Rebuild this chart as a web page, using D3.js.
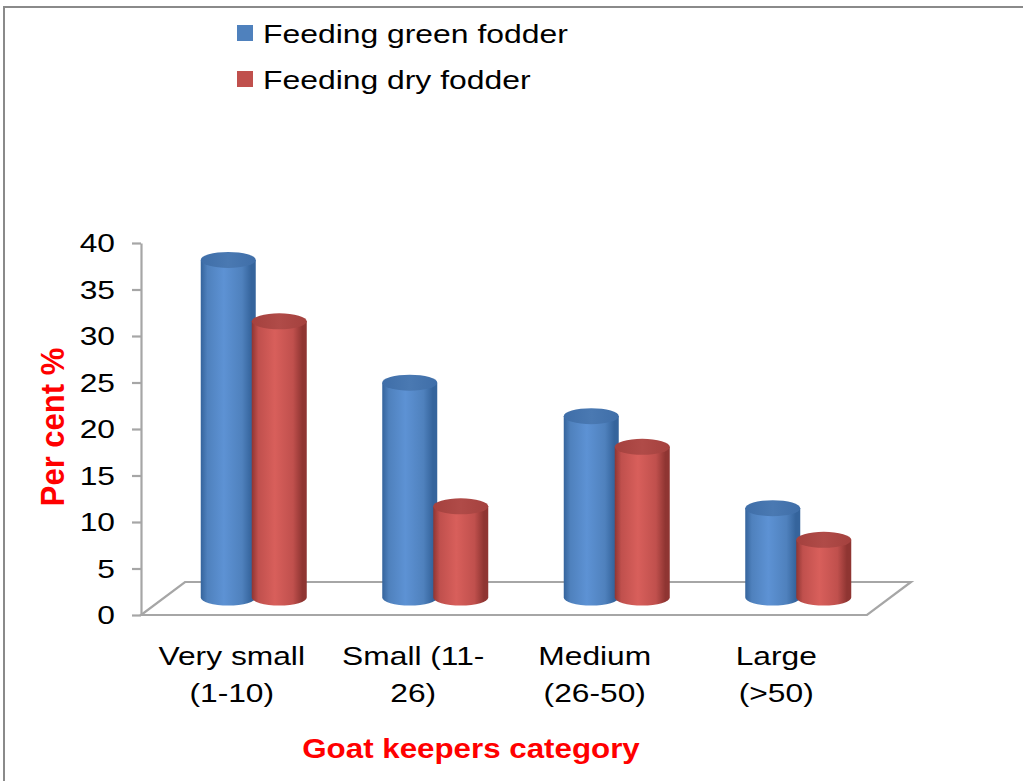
<!DOCTYPE html>
<html>
<head>
<meta charset="utf-8">
<script src="https://cdn.jsdelivr.net/npm/d3@7"></script>
<style>
  html, body { margin: 0; padding: 0; background: #fff; }
  svg { display: block; font-family: "Liberation Sans", Arial, sans-serif; }
</style>
</head>
<body>
<svg id="chart" width="1023" height="781"></svg>
<script>
// ---- data ----
const categories = ["Very small|(1-10)", "Small (11-|26)", "Medium|(26-50)", "Large|(>50)"];
const seriesNames = ["Feeding green fodder", "Feeding dry fodder"];
const greenFodder = [36.3, 23.1, 19.5, 9.6];
const dryFodder = [29.7, 9.8, 16.2, 6.2];
const yTicks = [0, 5, 10, 15, 20, 25, 30, 35, 40];

// ---- layout ----
const W = 1023, H = 781;
const svg = d3.select("#chart");
const SX = 1.27; // horizontal stretch of the text
const axisX = 141, floorW = 726;
const depthX = 44, depthY = -33;
const barDX = depthX / 2, barDY = depthY / 2 - 1;
const rx = 27.5, ry = 8, pairOff = 25.5;

const y = d3.scaleLinear().domain([0, 40]).range([615, 243]);
const x = d3.scaleBand().domain(categories).range([axisX, axisX + floorW]).padding(0);

const colors = {
  blue: { dark: "#35649c", mid: "#4f81bd", light: "#5d92d4", top: "#3f6ea8", topLight: "#4a79b2" },
  red: { dark: "#8f3532", mid: "#c0504d", light: "#d85f5b", top: "#a4413e", topLight: "#b04b48" }
};

const defs = svg.append("defs");
Object.entries(colors).forEach(([k, c]) => {
  const g = defs.append("linearGradient").attr("id", "body-" + k).attr("x1", 0).attr("x2", 1).attr("y1", 0).attr("y2", 0);
  [[0, c.dark], [0.12, c.mid], [0.42, c.light], [0.75, c.mid], [0.92, c.dark], [1, c.dark]]
    .forEach(([o, col]) => g.append("stop").attr("offset", o).attr("stop-color", col));
  const t = defs.append("linearGradient").attr("id", "top-" + k).attr("x1", 0).attr("x2", 1).attr("y1", 0).attr("y2", 0);
  [[0, c.top], [0.5, c.topLight], [1, c.top]]
    .forEach(([o, col]) => t.append("stop").attr("offset", o).attr("stop-color", col));
});

// ---- frame ----
svg.append("path").attr("d", `M4,781 L4,7 L1023,7`).attr("fill", "none").attr("stroke", "#8a8a8a").attr("stroke-width", 2);

// ---- floor ----
const x0 = axisX, x1 = axisX + floorW, y0 = y(0);
svg.append("path")
  .attr("d", `M${x0},${y0} L${x1},${y0} L${x1 + depthX},${y0 + depthY} L${x0 + depthX},${y0 + depthY} Z`)
  .attr("fill", "none").attr("stroke", "#a6a6a6").attr("stroke-width", 2.2);

// ---- y axis ----
const yAxis = d3.axisLeft(y).tickValues(yTicks).tickSize(9).tickSizeOuter(0).tickPadding(0).tickFormat(() => "");
const ga = svg.append("g").attr("transform", `translate(${axisX},0)`).call(yAxis);
ga.select(".domain").attr("stroke", "#a6a6a6").attr("stroke-width", 2.2);
ga.selectAll(".tick line").attr("stroke", "#a6a6a6").attr("stroke-width", 2.2);

yTicks.forEach(t => {
  svg.append("text")
    .attr("transform", `translate(115,${y(t) + 9}) scale(${SX},1)`)
    .attr("text-anchor", "end").attr("font-size", 25).attr("fill", "#000").text(t);
});

// ---- cylinders ----
function cyl(cx, v, key) {
  const topY = y(v) + barDY, baseY = y(0) + barDY;
  const g = svg.append("g");
  g.append("path")
    .attr("d", `M${cx - rx},${topY} L${cx - rx},${baseY} A${rx},${ry} 0 0 0 ${cx + rx},${baseY} L${cx + rx},${topY} Z`)
    .attr("fill", `url(#body-${key})`);
  g.append("ellipse").attr("cx", cx).attr("cy", topY).attr("rx", rx).attr("ry", ry)
    .attr("fill", `url(#top-${key})`);
}
categories.forEach((c, i) => {
  const cc = x(c) + x.bandwidth() / 2 + barDX;
  cyl(cc - pairOff, greenFodder[i], "blue");
  cyl(cc + pairOff, dryFodder[i], "red");
});

// ---- category labels ----
categories.forEach(c => {
  const cx = x(c) + x.bandwidth() / 2;
  c.split("|").forEach((line, j) => {
    svg.append("text")
      .attr("transform", `translate(${cx},${665 + j * 37}) scale(${SX},1)`)
      .attr("text-anchor", "middle").attr("font-size", 25).attr("fill", "#000").text(line);
  });
});

// ---- axis titles ----
svg.append("text")
  .attr("transform", `translate(471,758) scale(1.16,1)`)
  .attr("text-anchor", "middle").attr("font-size", 27).attr("font-weight", "bold").attr("fill", "#ff0000")
  .text("Goat keepers category");
svg.append("text")
  .attr("transform", `translate(64,427) rotate(-90) scale(1,1.08)`)
  .attr("text-anchor", "middle").attr("font-size", 31).attr("font-weight", "bold").attr("fill", "#ff0000")
  .text("Per cent %");

// ---- legend ----
const legColors = ["#4f81bd", "#c0504d"];
seriesNames.forEach((s, i) => {
  const ly = 43 + i * 46;
  svg.append("rect").attr("x", 237).attr("y", ly - 18).attr("width", 16).attr("height", 16).attr("fill", legColors[i]);
  svg.append("text")
    .attr("transform", `translate(263,${ly}) scale(1.25,1)`)
    .attr("font-size", 25.5).attr("fill", "#000").text(s);
});
</script>
</body>
</html>
